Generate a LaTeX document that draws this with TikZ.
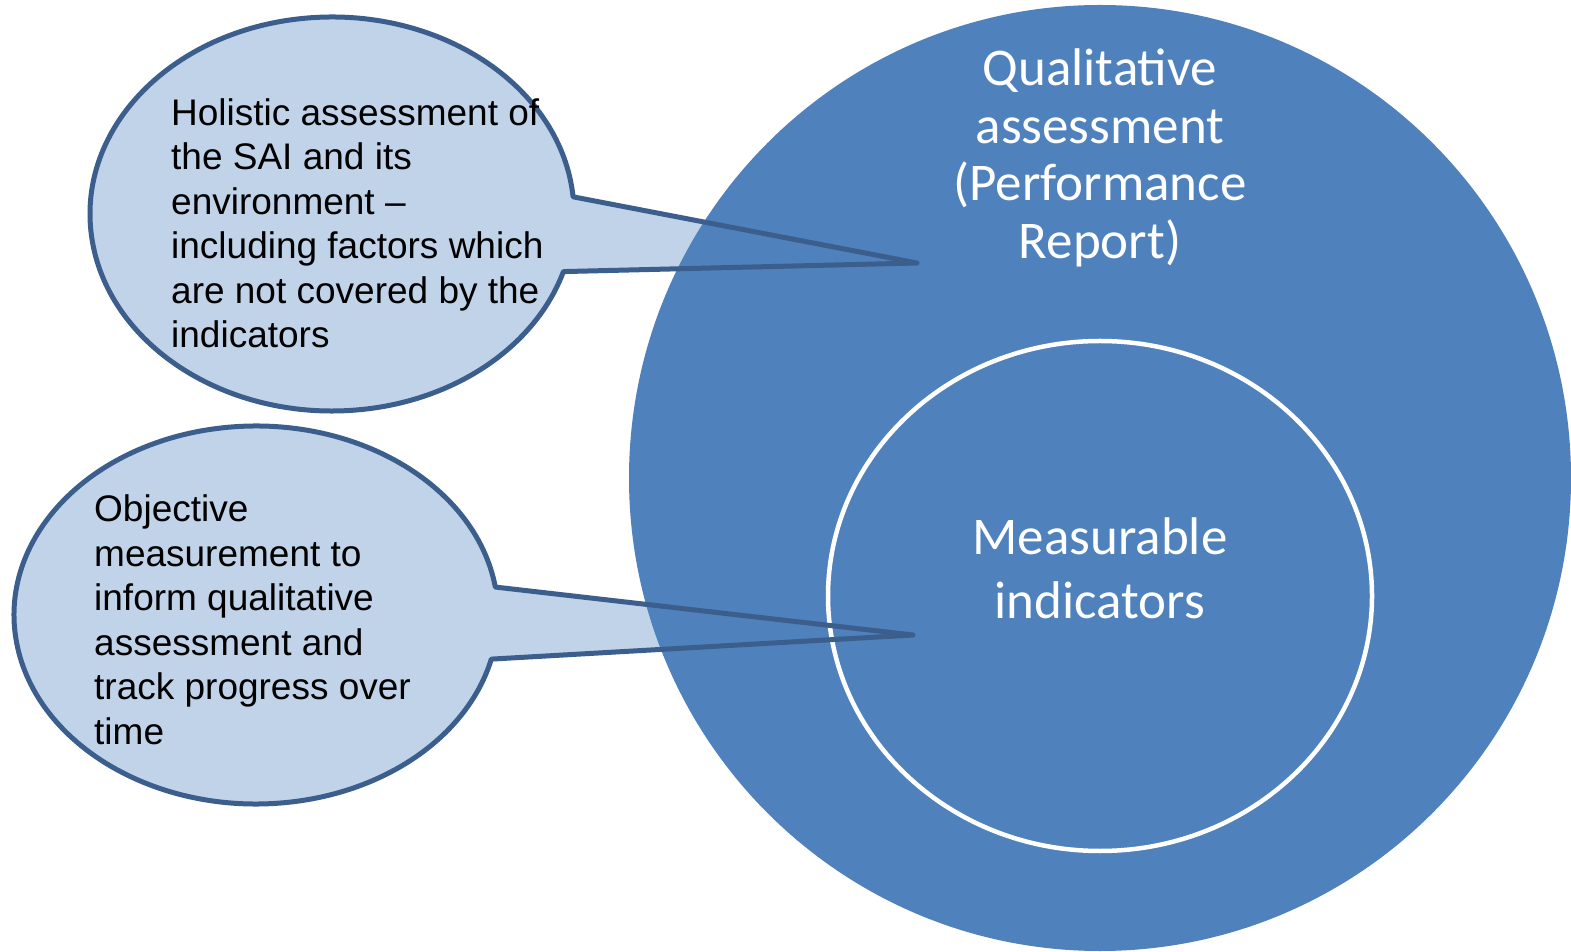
\documentclass[tikz,border=0pt]{standalone}
\usepackage{fontspec}
\usetikzlibrary{calc}
\setmainfont{Liberation Sans}
\newfontfamily\calib{Carlito}
\definecolor{bigblue}{HTML}{4F81BD}
\definecolor{calfill}{HTML}{C0D3E8}
\definecolor{caledge}{HTML}{3B5E8C}
\tikzset{
  calloutfill/.style={fill=calfill, draw=none},
  calloutedge/.style={draw=caledge, line width=5pt, line join=round},
  calltext/.style={anchor=base west, inner sep=0pt, text=black, font=\fontsize{37}{44.5}\selectfont},
  circtext/.style={anchor=base, inner sep=0pt, text=white, font=\calib\fontsize{53}{57.3}\selectfont},
}
\begin{document}
\begin{tikzpicture}[x=1pt,y=1pt]
\useasboundingbox (0,0) rectangle (1571,951);
\fill[white] (0,0) rectangle (1571,951);
\clip (0,0) rectangle (1571,951);
% key points
\coordinate (c1) at (332,737);
\coordinate (t1) at (917,688);
\coordinate (c2) at (256,336);
\coordinate (t2) at (913,316);
\coordinate (cb) at (1100,473);
\coordinate (ci) at (1100,355);
% callout fills
\fill[calloutfill] ($(c1)+(5:242pt and 197pt)$) arc[start angle=5, end angle=343, x radius=242pt, y radius=197pt] -- (t1) -- cycle;
\fill[calloutfill] ($(c2)+(8.5:242pt and 189pt)$) arc[start angle=8.5, end angle=346.5, x radius=242pt, y radius=189pt] -- (t2) -- cycle;
% big circle
\fill[bigblue] (cb) ellipse[x radius=471pt, y radius=473pt];
% inner ellipse
\draw[white, line width=4.5pt] (ci) ellipse[x radius=272pt, y radius=255pt];
% callout outlines
\draw[calloutedge] ($(c1)+(5:242pt and 197pt)$) arc[start angle=5, end angle=343, x radius=242pt, y radius=197pt] -- (t1) -- cycle;
\draw[calloutedge] ($(c2)+(8.5:242pt and 189pt)$) arc[start angle=8.5, end angle=346.5, x radius=242pt, y radius=189pt] -- (t2) -- cycle;
% texts
\node[calltext] (txt1) at (171,825.5) {\vtop{\baselineskip=44.5pt\halign{#\hfil\cr
Holistic assessment of\cr the SAI and its\cr environment --\cr including factors which\cr are not covered by the\cr indicators\cr}}};
\node[calltext] (txt2) at (94,429.3) {\vtop{\baselineskip=44.5pt\halign{#\hfil\cr
Objective\cr measurement to\cr inform qualitative\cr assessment and\cr track progress over\cr time\cr}}};
\node[circtext] (qual) at (1100,865.5) {\vtop{\baselineskip=57.6pt\halign{\hfil#\hfil\cr
Qualitative\cr assessment\cr (Performance\cr Report)\cr}}};
\node[circtext] (meas) at (1100,396) {\vtop{\baselineskip=64pt\halign{\hfil#\hfil\cr
Measurable\cr indicators\cr}}};
\end{tikzpicture}
\end{document}
